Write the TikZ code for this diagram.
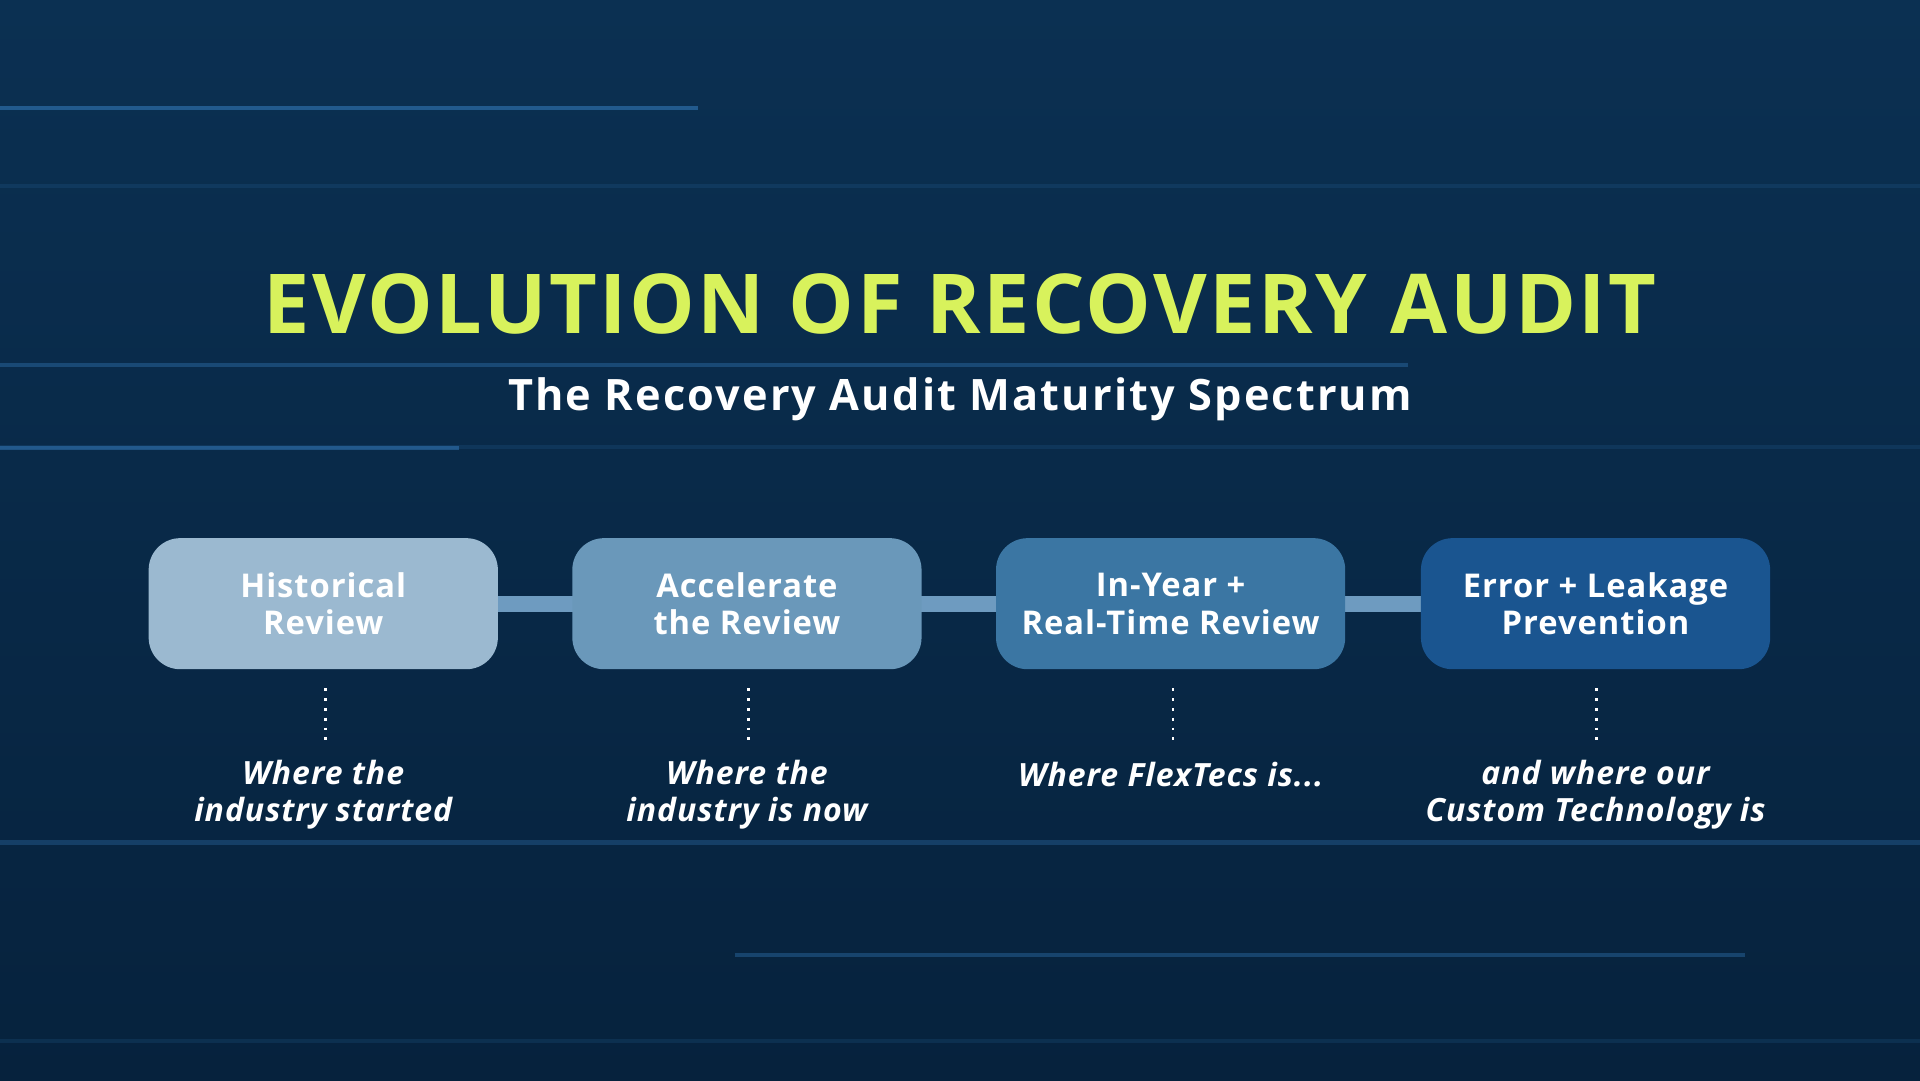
\documentclass[tikz,border=0pt]{standalone}
\usepackage{fontspec}
\setmainfont{Open Sans}
\newfontfamily\spacedfont[LetterSpace=5]{Open Sans}
\newfontfamily\tightfont[LetterSpace=3]{Open Sans}
\definecolor{bgdark}{HTML}{06223D}
\definecolor{bgmid}{HTML}{0B3052}
\definecolor{titlegreen}{HTML}{D8F25C}
\definecolor{stageA}{HTML}{9BB9D0}
\definecolor{stageB}{HTML}{6A98BA}
\definecolor{stageC}{HTML}{3B76A3}
\definecolor{stageD}{HTML}{1A5590}
\definecolor{barblue}{HTML}{6E9BC0}
\definecolor{streak}{HTML}{3F8FD8}
\tikzset{
  stage/.style={rounded corners=9pt, minimum width=3.49cm, minimum height=1.31cm,
    text=white, font=\tightfont\bfseries\fontsize{9.3}{10.7}\selectfont, align=center},
  note/.style={text=white, font=\tightfont\bfseries\itshape\fontsize{9.1}{10.5}\selectfont, align=center},
}
\begin{document}
\begin{tikzpicture}[x=0.012245cm, y=-0.012245cm]
	\useasboundingbox (0,0) rectangle (1568,882);
	\shade[top color=bgmid, bottom color=bgdark] (0,0) rectangle (1568,882);
        % light streaks
        \foreach \xa/\xb/\yy/\op in {0/570/88/0.45, 0/1150/298/0.3, 0/375/366/0.4, 0/1568/152/0.12,
            0/1568/688/0.25, 600/1425/780/0.3, 0/1568/850/0.12, 0/1568/365/0.12}
            \draw[streak, line width=1.2pt, opacity=\op] (\xa,\yy) -- (\xb,\yy);

        \node[text=titlegreen, font=\tightfont\bfseries\fontsize{23.5}{28}\selectfont] (title) at (784,248) {EVOLUTION OF RECOVERY AUDIT};
        \node[text=white, font=\spacedfont\bfseries\fontsize{12.3}{15}\selectfont] (subtitle) at (784,326) {The Recovery Audit Maturity Spectrum};

        % connector bar
        \coordinate (barL) at (264,493);
        \coordinate (barR) at (1303,493);
        \draw[barblue, line width=4.5pt] (barL) -- (barR);

        \node[stage, fill=stageA] (hist) at (264,493) {Historical\\Review};
        \node[stage, fill=stageB] (accel) at (610,493) {Accelerate\\the Review};
        \node[stage, fill=stageC] (inyear) at (956,493) {In-Year +\\Real-Time Review};
        \node[stage, fill=stageD] (prevent) at (1303,493) {Error + Leakage\\Prevention};

        \node[note] (nhist) at (264,649) {Where the\\industry started};
        \node[note] (naccel) at (610,649) {Where the\\industry is now};
        \node[note, anchor=base] (ninyear) at (956,642) {Where FlexTecs is...};
        \node[note] (nprevent) at (1303,649) {and where our\\Custom Technology is};

        % dotted ticks
        \foreach \n/\xx in {hist/266, accel/611, inyear/958, prevent/1304}
            \draw[white, dotted, line width=0.8pt] (\xx,562) -- (\xx,608);
\end{tikzpicture}
\end{document}
